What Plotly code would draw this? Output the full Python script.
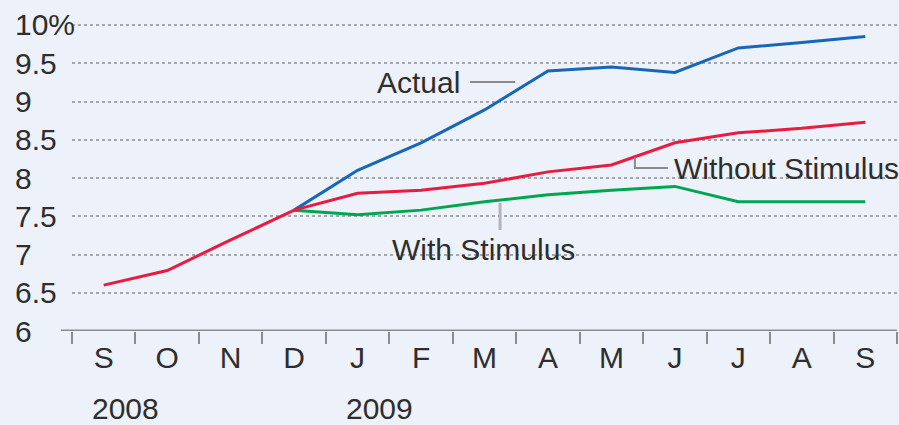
import plotly.graph_objects as go

# Monthly labels, Sep 2008 through Sep 2009
months = ["S", "O", "N", "D", "J", "F", "M", "A", "M", "J", "J", "A", "S"]
years = ["2008", "2009"]
year_month_index = [0, 4]

# Unemployment rate, percent
actual = [None, None, None, 7.58, 8.10, 8.46, 8.89, 9.40, 9.45, 9.38, 9.70, 9.77, 9.85]
without_stimulus = [6.60, 6.79, 7.19, 7.58, 7.80, 7.84, 7.93, 8.08, 8.17, 8.46, 8.59, 8.65, 8.73]
with_stimulus = [None, None, None, 7.58, 7.52, 7.58, 7.69, 7.78, 7.84, 7.89, 7.69, 7.69, 7.69]

y_ticks = [6, 6.5, 7, 7.5, 8, 8.5, 9, 9.5, 10]
y_tick_text = ["6", "6.5", "7", "7.5", "8", "8.5", "9", "9.5", "10%"]

FONT = "Liberation Sans, Arial, sans-serif"
FS = 30
TEXT = "#2e2e2e"
BG = "#edf1f9"
GREY = "#8c8c8c"

# month positions as category indices so repeated letters stay distinct
xi = list(range(len(months)))

fig = go.Figure()
fig.add_trace(go.Scatter(x=xi, y=with_stimulus, mode="lines",
                         line=dict(color="#00a64f", width=3), name="With Stimulus"))
fig.add_trace(go.Scatter(x=xi, y=actual, mode="lines",
                         line=dict(color="#1667b7", width=3), name="Actual"))
fig.add_trace(go.Scatter(x=xi, y=without_stimulus, mode="lines",
                         line=dict(color="#e81c40", width=3), name="Without Stimulus"))

font = dict(family=FONT, size=FS, color=TEXT)
annotations = []
# left-aligned y labels
for v, t in zip(y_ticks, y_tick_text):
    annotations.append(dict(x=-0.0715, xref="paper", y=v, yref="y", text=t,
                            xanchor="left", yanchor="middle", showarrow=False, font=font))
# year labels under the month letters
for idx, yr in zip(year_month_index, years):
    annotations.append(dict(x=idx, xref="x", y=-0.24, yref="paper", text=yr,
                            xanchor="left", yanchor="middle", xshift=-14,
                            showarrow=False, font=font))
# series labels
annotations += [
    dict(x=5.646, y=9.242, text="Actual", xanchor="right", yanchor="middle",
         showarrow=False, font=font),
    dict(x=8.955, y=8.13, text="Without Stimulus", xanchor="left", yanchor="middle",
         showarrow=False, font=font),
    dict(x=4.51, y=7.06, text="With Stimulus", xanchor="left", yanchor="middle",
         showarrow=False, font=font),
]

leader = dict(color="#8a8a8a", width=2)
shapes = [
    # baseline axis line
    dict(type="line", xref="paper", yref="y", x0=-0.0135, x1=1, y0=6, y1=6,
         line=dict(color=GREY, width=3)),
    dict(type="line", x0=5.774, x1=6.483, y0=9.255, y1=9.255, line=leader),
    dict(type="path", path="M 8.37,8.27 L 8.37,8.13 L 8.89,8.13", line=leader),
    dict(type="line", x0=6.245, x1=6.245, y0=7.673, y1=7.32,
         line=dict(color="#b4b4b8", width=3)),
]

fig.update_layout(
    width=899, height=425,
    margin=dict(l=72, r=2, t=10, b=94),
    paper_bgcolor=BG, plot_bgcolor=BG,
    showlegend=False,
    annotations=annotations,
    shapes=shapes,
    xaxis=dict(
        range=[-0.5, 12.5], tickmode="array",
        tickvals=xi, ticktext=months,
        showgrid=False, zeroline=False, showline=False,
        minor=dict(tickvals=[i - 0.5 for i in range(len(months) + 1)], ticks="outside",
                   ticklen=12, tickwidth=2, tickcolor=GREY, showgrid=False),
        ticks="", tickfont=font,
        ticklabelstandoff=6,
    ),
    yaxis=dict(
        range=[6, 10.196], tickvals=y_ticks[1:], showticklabels=False,
        showgrid=True, gridcolor="#a3a6ae", gridwidth=2, griddash="dot",
        zeroline=False, showline=False, ticks="",
    ),
)

fig.write_html("out.html")
